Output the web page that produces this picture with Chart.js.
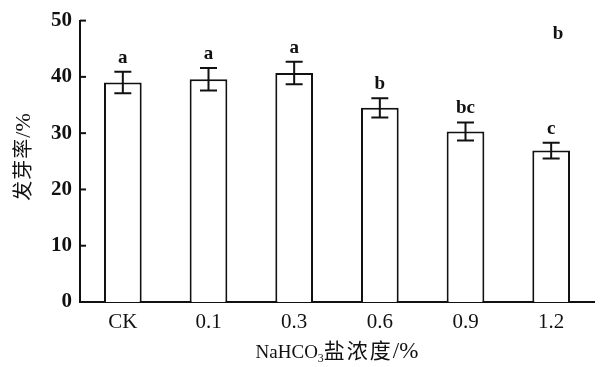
<!DOCTYPE html>
<html>
<head>
<meta charset="utf-8">
<script src="https://cdn.jsdelivr.net/npm/chart.js@4"></script>
<style>
  html, body { margin: 0; padding: 0; background: #fff; }
  #wrap { width: 603px; height: 367px; position: relative; }
</style>
</head>
<body>
<div id="wrap"><canvas id="germChart"></canvas></div>
<script>
// chart values
const categories = ['CK', '0.1', '0.3', '0.6', '0.9', '1.2'];
const rates = [39.0, 39.6, 40.7, 34.5, 30.3, 26.9];
const errors = [1.9, 2.0, 2.0, 1.7, 1.6, 1.4];
const letters = ['a', 'a', 'a', 'b', 'bc', 'c'];
const yTicks = [0, 10, 20, 30, 40, 50];
const panelLabel = 'b';

const serif = '"Liberation Serif", "Times New Roman", "Noto Sans CJK SC", serif';

// error bars, significance letters, inward ticks, axis titles
const extras = {
    id: 'extras',
    afterDatasetsDraw(chart) {
        const c = chart.ctx;
        const x = chart.scales.x, y = chart.scales.y;
        const area = chart.chartArea;
        c.save();
        c.strokeStyle = '#111';
        c.fillStyle = '#111';
        c.lineWidth = 2;

        rates.forEach((v, i) => {
            const px = x.getPixelForValue(i);
            const hi = y.getPixelForValue(v + errors[i]);
            const lo = y.getPixelForValue(v - errors[i]);
            c.beginPath();
            c.moveTo(px, hi); c.lineTo(px, lo);
            c.moveTo(px - 8.5, hi); c.lineTo(px + 8.5, hi);
            c.moveTo(px - 8.5, lo); c.lineTo(px + 8.5, lo);
            c.stroke();
            c.font = 'bold 19px ' + serif;
            c.textAlign = 'center';
            c.textBaseline = 'alphabetic';
            c.fillText(letters[i], px, hi - 9);
        });

        // inward ticks on y axis
        yTicks.forEach(t => {
            const py = y.getPixelForValue(t);
            c.beginPath();
            c.moveTo(area.left, py); c.lineTo(area.left + 6, py);
            c.stroke();
        });

        // panel label
        c.font = 'bold 19px ' + serif;
        c.textAlign = 'center';
        c.fillText(panelLabel, 558, 39);

        // x title with subscript
        const parts = [['NaHCO', 19, 0, 0], ['3', 12, 4, 0], ['盐浓度', 21, 0, 2], ['/%', 23, 0, 0]];
        let w = 0;
        parts.forEach(p => {
            c.font = p[1] + 'px ' + serif;
            w += c.measureText(p[0]).width + p[3] * p[0].length;
        });
        let cx = (area.left + area.right) / 2 - w / 2;
        c.textAlign = 'left';
        parts.forEach(p => {
            c.font = p[1] + 'px ' + serif;
            for (const ch of p[0]) {
                c.fillText(ch, cx, 358 + p[2]);
                cx += c.measureText(ch).width + p[3];
            }
        });

        // y title, rotated, letter by letter
        c.save();
        c.translate(30, 157);
        c.rotate(-Math.PI / 2);
        const ytxt = [['发', 20, 1], ['芽', 20, 1], ['率', 20, 1], ['/%', 22, 0]];
        let yw = 0;
        ytxt.forEach(p => { c.font = p[1] + 'px ' + serif; yw += c.measureText(p[0]).width + p[2]; });
        let yy = -yw / 2;
        ytxt.forEach(p => {
            c.font = p[1] + 'px ' + serif;
            c.fillText(p[0], yy, 0);
            yy += c.measureText(p[0]).width + p[2];
        });
        c.restore();
        c.restore();
    }
};

new Chart(document.getElementById('germChart'), {
    type: 'bar',
    data: {
        labels: categories,
        datasets: [{
            data: rates,
            backgroundColor: '#fff',
            borderColor: '#111',
            borderWidth: 2,
            borderSkipped: 'bottom',
            categoryPercentage: 1,
            barPercentage: 0.44
        }]
    },
    options: {
        responsive: true,
        maintainAspectRatio: false,
        animation: false,
        layout: { padding: { top: 18, right: 9, left: 0, bottom: 0 } },
        plugins: { legend: { display: false }, tooltip: { enabled: false } },
        scales: {
            x: {
                afterFit: s => { s.height = 65; },
                border: { color: '#111', width: 2 },
                grid: { display: false, drawTicks: false },
                ticks: { color: '#111', font: { family: serif, size: 21 }, padding: 8 }
            },
            y: {
                min: 0, max: 50,
                afterFit: s => { s.width = 80; },
                afterBuildTicks: s => { s.ticks = yTicks.map(v => ({ value: v })); },
                border: { color: '#111', width: 2 },
                grid: { display: false, drawTicks: false },
                ticks: { color: '#111', font: { family: serif, size: 21, weight: 'bold' }, padding: 8 }
            }
        }
    },
    plugins: [extras]
});
</script>
</body>
</html>
